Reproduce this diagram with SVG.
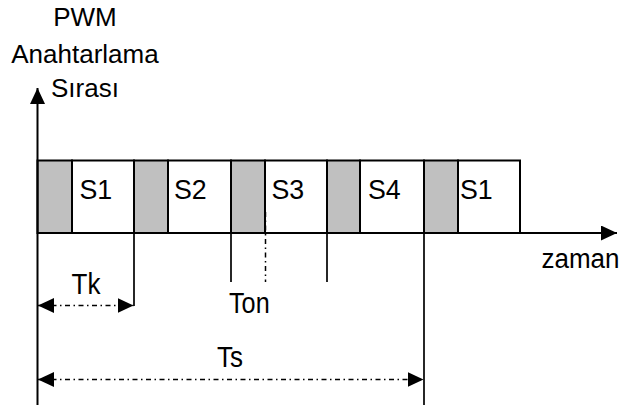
<svg xmlns="http://www.w3.org/2000/svg" width="633" height="405" viewBox="0 0 633 405">
<style>
.bg{fill:#ffffff}
.g{fill:#c0c0c0;stroke:#000;stroke-width:2}
.w{fill:#ffffff;stroke:#000;stroke-width:2}
.t{font-family:"Liberation Sans",Arial,sans-serif;font-size:26px;fill:#000}
.ax{stroke:#000;stroke-width:2;fill:none}
.tick{stroke:#000;stroke-width:1.7;fill:none}
.dd{stroke:#000;stroke-width:1.5;fill:none;stroke-dasharray:5 3.5 1.5 3.5}
</style>
<defs>
<marker id="arr" viewBox="0 0 16 15" refX="16" refY="7.5" markerWidth="16" markerHeight="15" markerUnits="userSpaceOnUse" orient="auto-start-reverse">
<path d="M0,0 L16,7.5 L0,15 Z" fill="#000"/>
</marker>
</defs>
<rect class="bg" x="0" y="0" width="633" height="405"/>

<g id="labels-axis">
<text class="t" x="85" y="26" text-anchor="middle">PWM</text>
<text class="t" x="85" y="63" text-anchor="middle">Anahtarlama</text>
<text class="t" x="85" y="96.5" text-anchor="middle">Sırası</text>
</g>

<g id="block1">
<rect class="g" x="37.5" y="160.5" width="34.5" height="72.5"/>
<rect class="w" x="72" y="160.5" width="62" height="72.5"/>
<text class="t" transform="translate(79.5,198.5) scale(1.03,1.07)">S1</text>
</g>
<g id="block2">
<rect class="g" x="134" y="160.5" width="34" height="72.5"/>
<rect class="w" x="168" y="160.5" width="63" height="72.5"/>
<text class="t" transform="translate(174,198.5) scale(1.03,1.07)">S2</text>
</g>
<g id="block3">
<rect class="g" x="231" y="160.5" width="34" height="72.5"/>
<rect class="w" x="265" y="160.5" width="62" height="72.5"/>
<text class="t" transform="translate(271.5,198.5) scale(1.03,1.07)">S3</text>
</g>
<g id="block4">
<rect class="g" x="327" y="160.5" width="33" height="72.5"/>
<rect class="w" x="360" y="160.5" width="64" height="72.5"/>
<text class="t" transform="translate(368,198.5) scale(1.03,1.07)">S4</text>
</g>
<g id="block5">
<rect class="g" x="424" y="160.5" width="34" height="72.5"/>
<rect class="w" x="458" y="160.5" width="62" height="72.5"/>
<text class="t" transform="translate(460,198.5) scale(1.03,1.07)">S1</text>
</g>

<g id="connectors">
<line class="ax" x1="37.5" y1="405" x2="37.5" y2="88" marker-end="url(#arr)"/>
<line class="ax" x1="37.5" y1="233" x2="617" y2="233" marker-end="url(#arr)"/>
<line class="tick" x1="134" y1="233" x2="134" y2="306"/>
<line class="tick" x1="231" y1="233" x2="231" y2="282"/>
<line class="tick" x1="327" y1="233" x2="327" y2="282"/>
<line class="tick" x1="424" y1="233" x2="424" y2="405"/>
<line class="dd" x1="265.5" y1="212" x2="265.5" y2="282"/>
<line class="dd" x1="38" y1="305.5" x2="133.5" y2="305.5" marker-start="url(#arr)" marker-end="url(#arr)"/>
<line class="dd" x1="38" y1="379.5" x2="423.5" y2="379.5" marker-start="url(#arr)" marker-end="url(#arr)"/>
</g>

<g id="labels-time">
<text class="t" transform="translate(541.5,268.3) scale(1,1.07)">zaman</text>
<text class="t" transform="translate(71.5,294.3) scale(1,1.1)">Tk</text>
<text class="t" transform="translate(229,312.5) scale(0.97,1.1)">Ton</text>
<text class="t" transform="translate(217,366.7) scale(1,1.1)">Ts</text>
</g>
</svg>
